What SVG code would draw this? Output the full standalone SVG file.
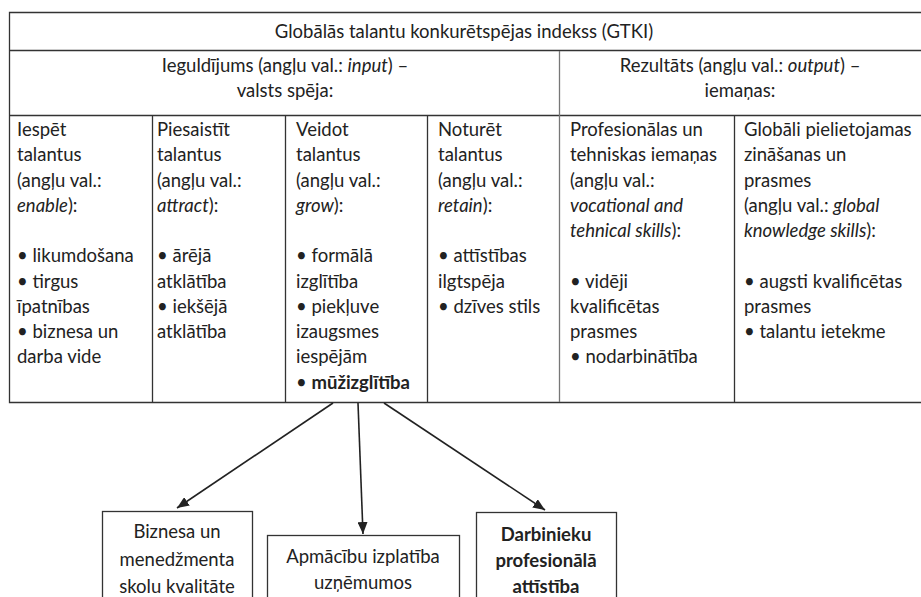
<svg xmlns="http://www.w3.org/2000/svg" width="921" height="597" viewBox="0 0 921 597">
<defs>
<style>
text{font-family:Lato,"Liberation Sans",sans-serif;font-size:18.5px;fill:#222}
.c{text-anchor:middle}
.i{font-style:italic}
.b{font-weight:bold}
.grid{stroke:#333;stroke-width:1.3;fill:none}
.soft{stroke:#777;stroke-width:1.3;fill:none}
.box{stroke:#333;stroke-width:1.3;fill:#fff}
.conn{stroke:#222;stroke-width:1.6;fill:none;marker-end:url(#ah)}
</style>
<marker id="ah" viewBox="0 0 12 10" refX="12" refY="5" markerWidth="12" markerHeight="10" markerUnits="userSpaceOnUse" orient="auto">
<path d="M0,0 L12,5 L0,10 z" fill="#222"/>
</marker>
</defs>
<rect width="921" height="597" fill="#fff"/>
<g id="table">
<path class="grid" d="M930,12.5 H9.5 V402.5 H930 M9.5,50.5 H930 M9.5,115.5 H930 M152.5,115.5 V402.5 M285.5,115.5 V402.5 M427.5,115.5 V402.5 M734.5,115.5 V402.5"/>
<path class="soft" d="M559.5,51 V402"/>
<text class="c" x="464" y="38">Globālās talantu konkurētspējas indekss (GTKI)</text>
<text class="c" x="285" y="72">Ieguldījums (angļu val.: <tspan class="i">input</tspan>) –</text>
<text class="c" x="285" y="97">valsts spēja:</text>
<text class="c" x="740" y="72">Rezultāts (angļu val.: <tspan class="i">output</tspan>) –</text>
<text class="c" x="740" y="97">iemaņas:</text>
</g>
<g id="col1">
<text x="17" y="136">Iespēt</text>
<text x="17" y="161.25">talantus</text>
<text x="17" y="186.5">(angļu val.:</text>
<text x="17" y="211.75"><tspan class="i">enable</tspan>):</text>
<text x="17" y="262.25">• likumdošana</text>
<text x="17" y="287.5">• tirgus</text>
<text x="17" y="312.75">īpatnības</text>
<text x="17" y="338">• biznesa un</text>
<text x="17" y="363.25">darba vide</text>
</g>
<g id="col2">
<text x="157" y="136">Piesaistīt</text>
<text x="157" y="161.25">talantus</text>
<text x="157" y="186.5">(angļu val.:</text>
<text x="157" y="211.75"><tspan class="i">attract</tspan>):</text>
<text x="157" y="262.25">• ārējā</text>
<text x="157" y="287.5">atklātība</text>
<text x="157" y="312.75">• iekšējā</text>
<text x="157" y="338">atklātība</text>
</g>
<g id="col3">
<text x="296" y="136">Veidot</text>
<text x="296" y="161.25">talantus</text>
<text x="296" y="186.5">(angļu val.:</text>
<text x="296" y="211.75"><tspan class="i">grow</tspan>):</text>
<text x="296" y="262.25">• formālā</text>
<text x="296" y="287.5">izglītība</text>
<text x="296" y="312.75">• piekļuve</text>
<text x="296" y="338">izaugsmes</text>
<text x="296" y="363.25">iespējām</text>
<text x="296" y="388.5">• <tspan class="b">mūžizglītība</tspan></text>
</g>
<g id="col4">
<text x="438" y="136">Noturēt</text>
<text x="438" y="161.25">talantus</text>
<text x="438" y="186.5">(angļu val.:</text>
<text x="438" y="211.75"><tspan class="i">retain</tspan>):</text>
<text x="438" y="262.25">• attīstības</text>
<text x="438" y="287.5">ilgtspēja</text>
<text x="438" y="312.75">• dzīves stils</text>
</g>
<g id="col5">
<text x="570" y="136">Profesionālas un</text>
<text x="570" y="161.25">tehniskas iemaņas</text>
<text x="570" y="186.5">(angļu val.:</text>
<text x="570" y="211.75" class="i">vocational and</text>
<text x="570" y="237"><tspan class="i">tehnical skills</tspan>):</text>
<text x="570" y="287.5">• vidēji</text>
<text x="570" y="312.75">kvalificētas</text>
<text x="570" y="338">prasmes</text>
<text x="570" y="363.25">• nodarbinātība</text>
</g>
<g id="col6">
<text x="744" y="136">Globāli pielietojamas</text>
<text x="744" y="161.25">zināšanas un</text>
<text x="744" y="186.5">prasmes</text>
<text x="744" y="211.75">(angļu val.: <tspan class="i">global</tspan></text>
<text x="744" y="237"><tspan class="i">knowledge skills</tspan>):</text>
<text x="744" y="287.5">• augsti kvalificētas</text>
<text x="744" y="312.75">prasmes</text>
<text x="744" y="338">• talantu ietekme</text>
</g>
<g id="connectors">
<line class="conn" x1="333" y1="403" x2="177" y2="508"/>
<line class="conn" x1="358" y1="403" x2="363" y2="534"/>
<line class="conn" x1="384" y1="403" x2="545" y2="510"/>
</g>
<g id="box1">
<rect class="box" x="102.5" y="511.5" width="150" height="100"/>
<text class="c" x="177" y="538">Biznesa un</text>
<text class="c" x="177" y="565.5">menedžmenta</text>
<text class="c" x="177" y="593">skolu kvalitāte</text>
</g>
<g id="box2">
<rect class="box" x="267.5" y="535.5" width="192" height="80"/>
<text class="c" x="363" y="563">Apmācību izplatība</text>
<text class="c" x="363" y="589">uzņēmumos</text>
</g>
<g id="box3">
<rect class="box" x="476.5" y="512.5" width="140" height="100"/>
<text class="c b" x="546" y="541">Darbinieku</text>
<text class="c b" x="546" y="567">profesionālā</text>
<text class="c b" x="546" y="593">attīstība</text>
</g>
</svg>
